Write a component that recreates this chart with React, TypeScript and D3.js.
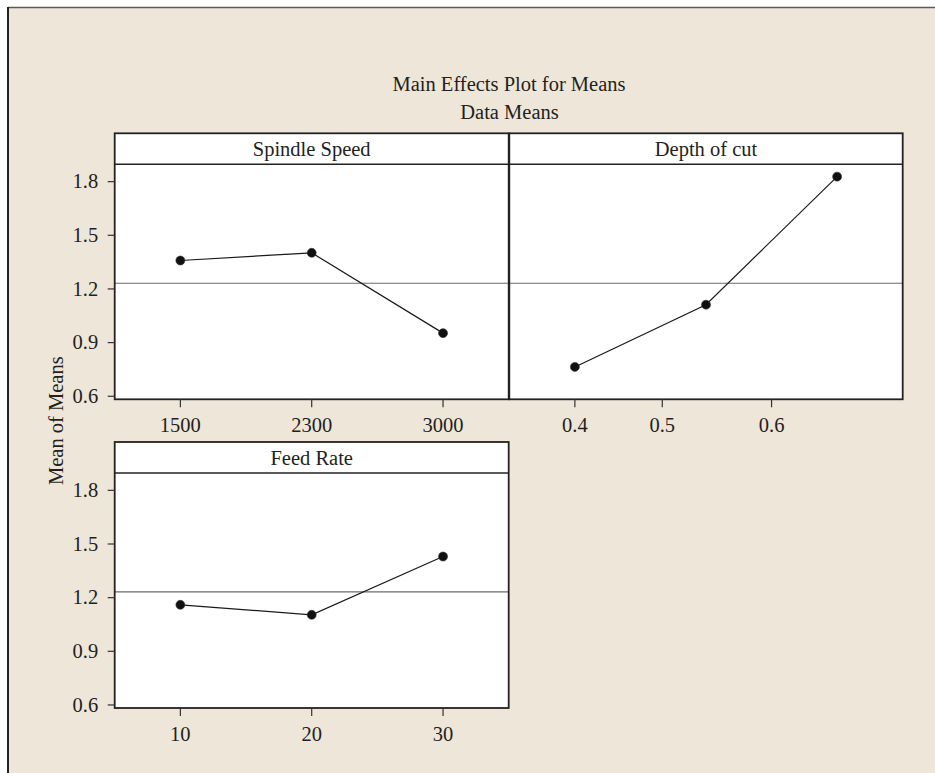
import * as d3 from "d3";

// factor levels and response means
const spindleLevels = [1500, 2300, 3000];
const spindleMeans = [1.359, 1.402, 0.953];

const depthLevels = [0.4, 0.55, 0.65];
const depthMeans = [0.764, 1.112, 1.828];
const depthTicks = [0.4, 0.5, 0.6];

const feedLevels = [10, 20, 30];
const feedMeans = [1.16, 1.104, 1.43];

const yTicks = [0.6, 0.9, 1.2, 1.5, 1.8];
const grandMean = 1.232;

const W = 935;
const H = 773;
const FONT = "'Liberation Serif', 'Times New Roman', serif";
const INK = "#231f20";
const FS = 20.5;

const colLeft = [114.7, 509.3];
const colWidth = 394;
const rowTop = [133.3, 442];
const headerH = 31;
const plotH = 235;
const yDomain: [number, number] = [0.583, 1.897];

type Panel = {
  title: string;
  levels: number[];
  means: number[];
  ticks: number[];
  numeric: boolean;
  col: number;
  row: number;
  yAxis: boolean;
};

const panels: Panel[] = [
  { title: "Spindle Speed", levels: spindleLevels, means: spindleMeans, ticks: spindleLevels, numeric: false, col: 0, row: 0, yAxis: true },
  { title: "Depth of cut", levels: depthLevels, means: depthMeans, ticks: depthTicks, numeric: true, col: 1, row: 0, yAxis: false },
  { title: "Feed Rate", levels: feedLevels, means: feedMeans, ticks: feedLevels, numeric: false, col: 0, row: 1, yAxis: true },
];

function PanelView({ p }: { p: Panel }) {
  const left = colLeft[p.col];
  const right = left + (p.col === 0 ? colWidth : 393.4);
  const top = rowTop[p.row];
  const plotTop = top + headerH;
  const bottom = plotTop + plotH;

  const pt = d3
    .scalePoint<string>()
    .domain(p.levels.map(String))
    .range([left, right])
    .padding(0.5);

  // level -> x; the depth panel uses a piecewise linear scale through the level positions
  const lin = d3
    .scaleLinear()
    .domain(p.levels)
    .range(p.levels.map((v) => pt(String(v))!));
  const xPos = (v: number) => (p.numeric ? lin(v) : pt(String(v))!);

  const y = d3.scaleLinear().domain(yDomain).range([bottom, plotTop]);

  const line = d3
    .line<number>()
    .x((_, i) => xPos(p.levels[i]))
    .y((d) => y(d));

  return (
    <g>
      <rect x={left} y={top} width={right - left} height={bottom - top} fill="#fff" />
      <line x1={left} x2={right} y1={y(grandMean)} y2={y(grandMean)} stroke="#6b6b6b" strokeWidth={1.2} />
      <path d={line(p.means) ?? ""} fill="none" stroke="#1a1a1a" strokeWidth={1.2} />
      {p.means.map((m, i) => (
        <circle key={i} cx={xPos(p.levels[i])} cy={y(m)} r={4.5} fill="#111" stroke="#333" strokeWidth={0.6} />
      ))}
      <rect x={left} y={top} width={right - left} height={bottom - top} fill="none" stroke="#222" strokeWidth={1.8} />
      <line x1={left} x2={right} y1={plotTop} y2={plotTop} stroke="#222" strokeWidth={1.6} />
      <text x={(left + right) / 2} y={top + 23} textAnchor="middle" fontFamily={FONT} fontSize={FS} fill={INK}>
        {p.title}
      </text>
      {p.ticks.map((t) => (
        <g key={t} transform={`translate(${xPos(t)},${bottom})`}>
          <line y1={0} y2={8} stroke="#333" strokeWidth={1.2} />
          <text y={33} textAnchor="middle" fontFamily={FONT} fontSize={FS} fill={INK}>
            {p.numeric ? d3.format(".1f")(t) : t}
          </text>
        </g>
      ))}
      {p.yAxis &&
        yTicks.map((t) => (
          <g key={t} transform={`translate(${left},${y(t)})`}>
            <line x1={-7} x2={0} stroke="#333" strokeWidth={1.2} />
            <text x={-16.5} dy="0.33em" textAnchor="end" fontFamily={FONT} fontSize={FS} fill={INK}>
              {d3.format(".1f")(t)}
            </text>
          </g>
        ))}
    </g>
  );
}

export default function App() {
  const yLabelY = (rowTop[0] + rowTop[1] + headerH + plotH) / 2;
  return (
    <div style={{ position: "absolute", left: 0, top: 0 }}>
      <svg width={W} height={H} viewBox={`0 0 ${W} ${H}`} style={{ display: "block" }}>
        <rect x={0} y={0} width={W} height={H} fill="#fff" />
        <rect x={8} y={7} width={W - 8} height={H - 7} fill="#efe6da" />
        <line x1={8} x2={W} y1={7.5} y2={7.5} stroke="#5a5a5a" strokeWidth={1.5} />
        <line x1={8} x2={8} y1={7} y2={H} stroke="#222" strokeWidth={2} />

        <text x={509} y={90.5} textAnchor="middle" fontFamily={FONT} fontSize={FS} fill={INK}>
          Main Effects Plot for Means
        </text>
        <text x={509.5} y={119.3} textAnchor="middle" fontFamily={FONT} fontSize={FS} fill={INK}>
          Data Means
        </text>
        <text
          transform={`translate(62.5,${yLabelY}) rotate(-90)`}
          textAnchor="middle"
          fontFamily={FONT}
          fontSize={FS}
          fill={INK}
        >
          Mean of Means
        </text>

        {panels.map((p) => (
          <PanelView key={p.title} p={p} />
        ))}
      </svg>
    </div>
  );
}
